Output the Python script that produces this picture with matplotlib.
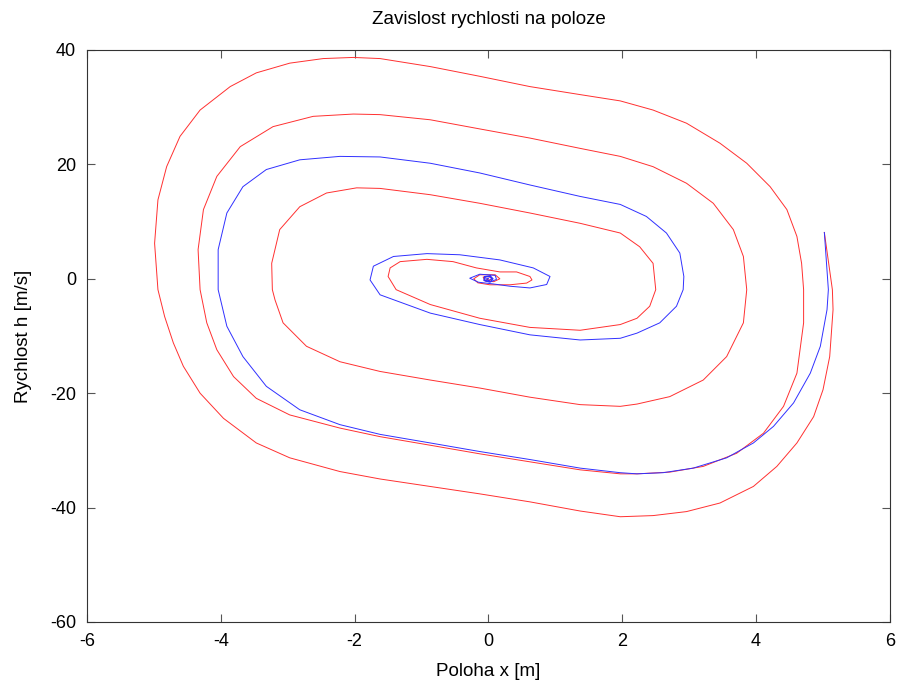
import numpy as np
import matplotlib
matplotlib.use('Agg')
import matplotlib.pyplot as plt

plt.rcParams['font.family'] = ['Liberation Sans', 'DejaVu Sans']
plt.rcParams['axes.unicode_minus'] = False

# Red trajectory (poloha x [m], rychlost h [m/s])
red_x = [5.02, 5.14, 5.15, 5.10, 5.00, 4.86, 4.61, 4.31, 3.96, 3.46, 2.96, 2.46, 1.97,
         1.37, 0.62, -0.13, -0.87, -1.62, -2.22, -2.97, -3.47, -3.96, -4.31, -4.56,
         -4.71, -4.84, -4.94, -4.99, -4.94, -4.81, -4.61, -4.31, -3.86, -3.47, -2.97,
         -2.47, -2.02, -1.62, -0.87, -0.13, 0.62, 1.37, 1.97, 2.46, 2.96, 3.46, 3.86,
         4.21, 4.46, 4.61, 4.68, 4.71, 4.71, 4.61, 4.41, 4.11, 3.71, 3.21, 2.71, 2.22,
         1.97, 1.37, 0.62, -0.13, -0.87, -1.62, -2.22, -2.97, -3.47, -3.81, -4.06,
         -4.21, -4.31, -4.34, -4.26, -4.06, -3.71, -3.22, -2.62, -2.02, -1.62, -0.87,
         -0.13, 0.62, 1.37, 1.97, 2.46, 2.96, 3.36, 3.66, 3.81, 3.86, 3.81, 3.56, 3.21,
         2.71, 2.22, 1.97, 1.37, 0.62, -0.13, -0.87, -1.62, -2.22, -2.72, -3.07, -3.19,
         -3.23, -3.24, -3.12, -2.82, -2.42, -1.97, -1.62, -0.87, -0.13, 0.62, 1.37,
         1.97, 2.26, 2.46, 2.50, 2.41, 2.22, 1.97, 1.37, 0.62, -0.13, -0.87, -1.38,
         -1.50, -1.47, -1.32, -0.92, -0.53, -0.18, 0.17, 0.42, 0.62, 0.65, 0.57, 0.32,
         0.02, -0.16, -0.22, -0.13, 0.10, 0.17, 0.08, -0.05, -0.08, 0.0, 0.06, 0.02,
         -0.03, 0.0]
red_v = [8.1, -1.9, -5.4, -13.6, -19.4, -24.1, -28.7, -32.8, -36.3, -39.2, -40.7, -41.4,
         -41.6, -40.6, -39.0, -37.6, -36.3, -35.0, -33.7, -31.3, -28.7, -24.4, -20.0,
         -15.3, -11.2, -6.6, -1.9, 6.2, 13.8, 19.6, 24.9, 29.5, 33.6, 36.0, 37.7, 38.5,
         38.7, 38.5, 37.1, 35.4, 33.6, 32.2, 31.1, 29.5, 27.2, 23.7, 20.2, 16.1, 12.1,
         7.4, 2.7, -1.9, -7.7, -16.5, -22.3, -27.0, -30.5, -32.8, -33.8, -34.1, -34.1,
         -33.4, -32.0, -30.6, -29.1, -27.6, -26.1, -23.8, -20.9, -17.1, -12.4, -7.7,
         -1.9, 5.1, 12.1, 17.9, 23.1, 26.6, 28.4, 28.8, 28.7, 27.8, 26.2, 24.6, 22.8,
         21.4, 19.6, 16.7, 13.2, 8.6, 3.9, -1.9, -7.7, -13.6, -17.7, -20.6, -21.9,
         -22.3, -22.0, -20.7, -19.1, -17.7, -16.2, -14.5, -11.8, -7.7, -3.7, -1.9, 2.7,
         8.6, 12.6, 15.0, 15.9, 15.8, 14.7, 13.2, 11.5, 9.7, 8.0, 5.6, 2.7, -1.9, -4.8,
         -6.9, -8.0, -9.0, -8.5, -6.9, -4.5, -1.9, 0.4, 1.9, 3.0, 3.4, 3.0, 1.9, 1.2,
         1.2, 0.4, -0.2, -0.75, -1.05, -1.05, -0.7, 0.0, 0.7, 0.7, 0.0, -0.5, -0.4, 0.3,
         0.4, 0.0, -0.3, -0.1, 0.0]

# Blue trajectory
blue_x = [5.02, 5.08, 5.06, 4.96, 4.81, 4.56, 4.26, 3.96, 3.56, 3.06, 2.61, 2.22, 1.97,
          1.37, 0.62, -0.13, -0.87, -1.62, -2.22, -2.82, -3.32, -3.67, -3.91, -4.04,
          -4.04, -3.91, -3.67, -3.32, -2.82, -2.22, -1.62, -0.87, -0.13, 0.62, 1.37,
          1.97, 2.36, 2.66, 2.86, 2.92, 2.91, 2.81, 2.56, 2.22, 1.97, 1.37, 0.62, -0.13,
          -0.87, -1.62, -1.77, -1.72, -1.42, -0.92, -0.43, 0.17, 0.67, 0.92, 0.87, 0.62,
          0.32, 0.07, -0.15, -0.28, -0.13, 0.10, 0.12, 0.02, -0.07, -0.06, 0.03, 0.07,
          0.03, -0.05, -0.05, 0.02, 0.05, 0.0, -0.03, 0.0]
blue_v = [8.1, -1.9, -5.4, -11.8, -16.5, -21.7, -25.8, -28.7, -31.3, -33.1, -33.9, -34.1,
          -33.9, -33.1, -31.6, -30.2, -28.7, -27.2, -25.5, -22.9, -18.8, -13.6, -8.3,
          -1.9, 5.1, 11.5, 16.1, 19.1, 20.8, 21.4, 21.3, 20.2, 18.5, 16.4, 14.4, 13.0,
          10.9, 8.0, 4.5, 0.4, -1.9, -4.8, -7.7, -9.5, -10.4, -10.7, -9.8, -8.0, -6.0,
          -2.8, -0.2, 2.2, 3.9, 4.4, 4.2, 3.3, 1.9, 0.4, -1.0, -1.6, -1.3, -0.9, -0.6,
          0.1, 0.8, 0.6, -0.1, -0.6, -0.3, 0.4, 0.5, 0.0, -0.5, -0.3, 0.3, 0.4, 0.0,
          -0.3, 0.0, 0.1]

x_ticks = [-6, -4, -2, 0, 2, 4, 6]
y_ticks = [-60, -40, -20, 0, 20, 40]

fig = plt.figure(figsize=(8.98, 6.82), dpi=100)
ax = fig.add_axes([0.0969, 0.088, 0.8941, 0.8387])

ax.plot(red_x, red_v, color='#ff3030', linewidth=0.7)
ax.plot(blue_x, blue_v, color='#3030ff', linewidth=0.7)

ax.set_xlim(-6, 6)
ax.set_ylim(-60, 40)
ax.set_xticks(x_ticks)
ax.set_yticks(y_ticks)
ax.tick_params(direction='in', length=6, width=0.8, color='#555555',
               top=True, right=True, labelsize=13, pad=8)
for s in ax.spines.values():
    s.set_linewidth(0.8)
    s.set_color('#333333')

ax.set_title('Zavislost rychlosti na poloze', fontsize=13.5, pad=19)
ax.set_xlabel('Poloha x [m]', fontsize=13.5, labelpad=9)
ax.set_ylabel('Rychlost h [m/s]', fontsize=13.5, labelpad=13)

fig.savefig('out.png', dpi=100)
